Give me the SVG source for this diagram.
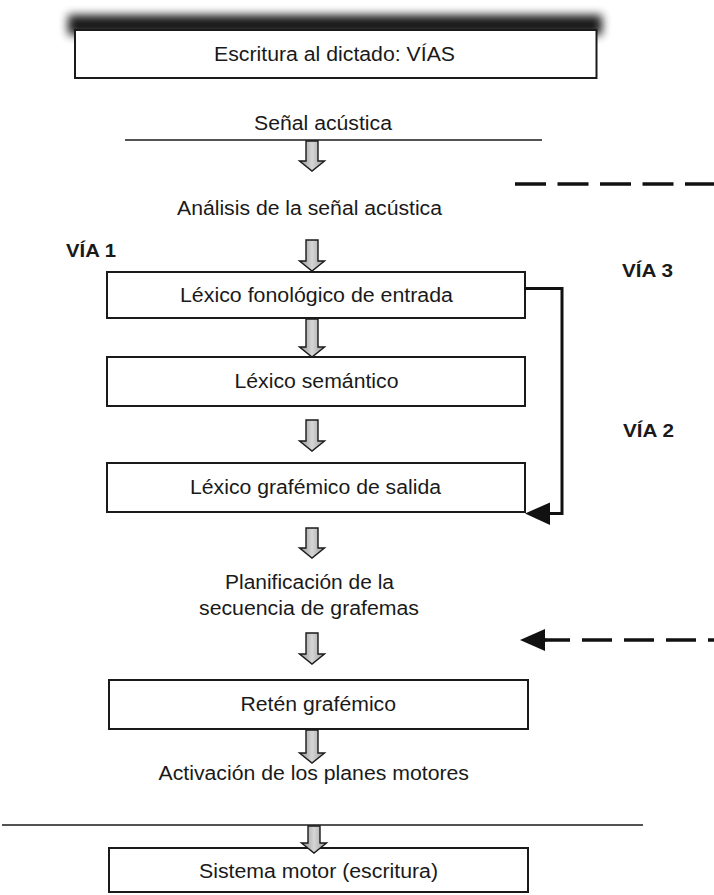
<svg xmlns="http://www.w3.org/2000/svg" width="714" height="895" viewBox="0 0 714 895">
<style>
  .box { fill: #ffffff; stroke: #1a1a1a; stroke-width: 2; }
  .t { font-family: "Liberation Sans", Arial, sans-serif; font-size: 19.5px; fill: #1a1a1a; }
  .b { font-family: "Liberation Sans", Arial, sans-serif; font-size: 18.5px; font-weight: bold; fill: #1a1a1a; }
  .rule { stroke: #1a1a1a; stroke-width: 1.6; fill: none; }
  .blk { fill: url(#arrowGrad); stroke: #1a1a1a; stroke-width: 1.4; stroke-linejoin: miter; }
  .solid { stroke: #111; stroke-width: 3; fill: none; }
  .dash { stroke: #111; stroke-width: 3.5; fill: none; }
  .head { fill: #111; }
</style>
<defs>
  <linearGradient id="arrowGrad" x1="0" y1="0" x2="1" y2="0">
    <stop offset="0" stop-color="#8e8e8e"/>
    <stop offset="0.5" stop-color="#d6d6d6"/>
    <stop offset="1" stop-color="#9a9a9a"/>
  </linearGradient>
  <filter id="blur" x="-10%" y="-100%" width="120%" height="300%">
    <feGaussianBlur stdDeviation="5"/>
  </filter>
</defs>

<rect width="714" height="895" fill="#ffffff"/>

<!-- horizontal rules -->
<line class="rule" x1="125" y1="140" x2="542" y2="140"/>
<line class="rule" x1="2" y1="825" x2="643" y2="825"/>

<!-- nodes -->
<g id="node-escritura">
  <rect x="68" y="15" width="534" height="20" fill="#000" opacity="0.9" filter="url(#blur)"/>
  <rect class="box" x="75" y="30" width="521.5" height="48"/>
  <text class="t" x="214" y="61" textLength="241" lengthAdjust="spacingAndGlyphs">Escritura al dictado: VÍAS</text>
</g>

<g id="node-senal">
  <text class="t" x="254" y="129.5" textLength="138" lengthAdjust="spacingAndGlyphs">Señal acústica</text>
</g>

<g id="node-analisis">
  <text class="t" x="177" y="215" textLength="265" lengthAdjust="spacingAndGlyphs">Análisis de la señal acústica</text>
</g>

<g id="label-via1">
  <text class="b" x="66" y="256.5" textLength="50" lengthAdjust="spacingAndGlyphs">VÍA 1</text>
</g>
<g id="label-via3">
  <text class="b" x="622" y="276.5" textLength="51" lengthAdjust="spacingAndGlyphs">VÍA 3</text>
</g>
<g id="label-via2">
  <text class="b" x="623" y="436.5" textLength="51" lengthAdjust="spacingAndGlyphs">VÍA 2</text>
</g>

<g id="node-lexico-fonologico">
  <rect class="box" x="107" y="272" width="418" height="46"/>
  <text class="t" x="180" y="301.5" textLength="273" lengthAdjust="spacingAndGlyphs">Léxico fonológico de entrada</text>
</g>

<g id="node-lexico-semantico">
  <rect class="box" x="107" y="357" width="418" height="49"/>
  <text class="t" x="234.5" y="388" textLength="164" lengthAdjust="spacingAndGlyphs">Léxico semántico</text>
</g>

<g id="node-lexico-grafemico">
  <rect class="box" x="107" y="463" width="418" height="49"/>
  <text class="t" x="190" y="494" textLength="251" lengthAdjust="spacingAndGlyphs">Léxico grafémico de salida</text>
</g>

<g id="node-planificacion">
  <text class="t" x="225" y="588.5" textLength="169" lengthAdjust="spacingAndGlyphs">Planificación de la</text>
  <text class="t" x="199" y="615" textLength="220" lengthAdjust="spacingAndGlyphs">secuencia de grafemas</text>
</g>

<g id="node-reten">
  <rect class="box" x="109" y="680" width="419" height="49"/>
  <text class="t" x="240.5" y="711" textLength="155.5" lengthAdjust="spacingAndGlyphs">Retén grafémico</text>
</g>

<g id="node-activacion">
  <text class="t" x="158.5" y="780" textLength="310.5" lengthAdjust="spacingAndGlyphs">Activación de los planes motores</text>
</g>

<g id="node-sistema-motor">
  <rect class="box" x="109" y="848" width="419" height="44"/>
  <text class="t" x="199" y="877.5" textLength="239" lengthAdjust="spacingAndGlyphs">Sistema motor (escritura)</text>
</g>

<!-- connectors -->
<g id="connectors">
  <!-- block arrows down the main column -->
  <path class="blk" d="M306,141 H318 V161 H324.5 L312,171 L299.5,161 H306 Z"/>
  <path class="blk" d="M306,240 H318 V261 H324.5 L312,271 L299.5,261 H306 Z"/>
  <path class="blk" d="M306,319 H318 V347 H324.5 L312,357 L299.5,347 H306 Z"/>
  <path class="blk" d="M306,420 H318 V441 H324.5 L312,451 L299.5,441 H306 Z"/>
  <path class="blk" d="M306,528 H318 V548 H324.5 L312,558 L299.5,548 H306 Z"/>
  <path class="blk" d="M306,633 H318 V654 H324.5 L312,664 L299.5,654 H306 Z"/>
  <path class="blk" d="M306,730 H318 V753 H324.5 L312,763 L299.5,753 H306 Z"/>
  <path class="blk" d="M308,826 H320 V843 H326.5 L314,853 L301.5,843 H308 Z"/>

  <!-- VÍA 2 bracket: léxico fonológico -> léxico grafémico -->
  <path class="solid" d="M524,288.5 H562 V513.5 H546"/>
  <polygon class="head" points="525,513.5 550,502.5 550,525"/>

  <!-- VÍA 3 dashed lines -->
  <line class="dash" x1="515" y1="184" x2="714" y2="184" stroke-dasharray="31 11.5"/>
  <path class="dash" d="M714,640 H540" stroke-dasharray="30 12" stroke-dashoffset="24"/>
  <line class="solid" x1="538" y1="640" x2="546" y2="640" stroke-width="3.5"/>
  <polygon class="head" points="520,640 545,629 545,651"/>
</g>
</svg>
